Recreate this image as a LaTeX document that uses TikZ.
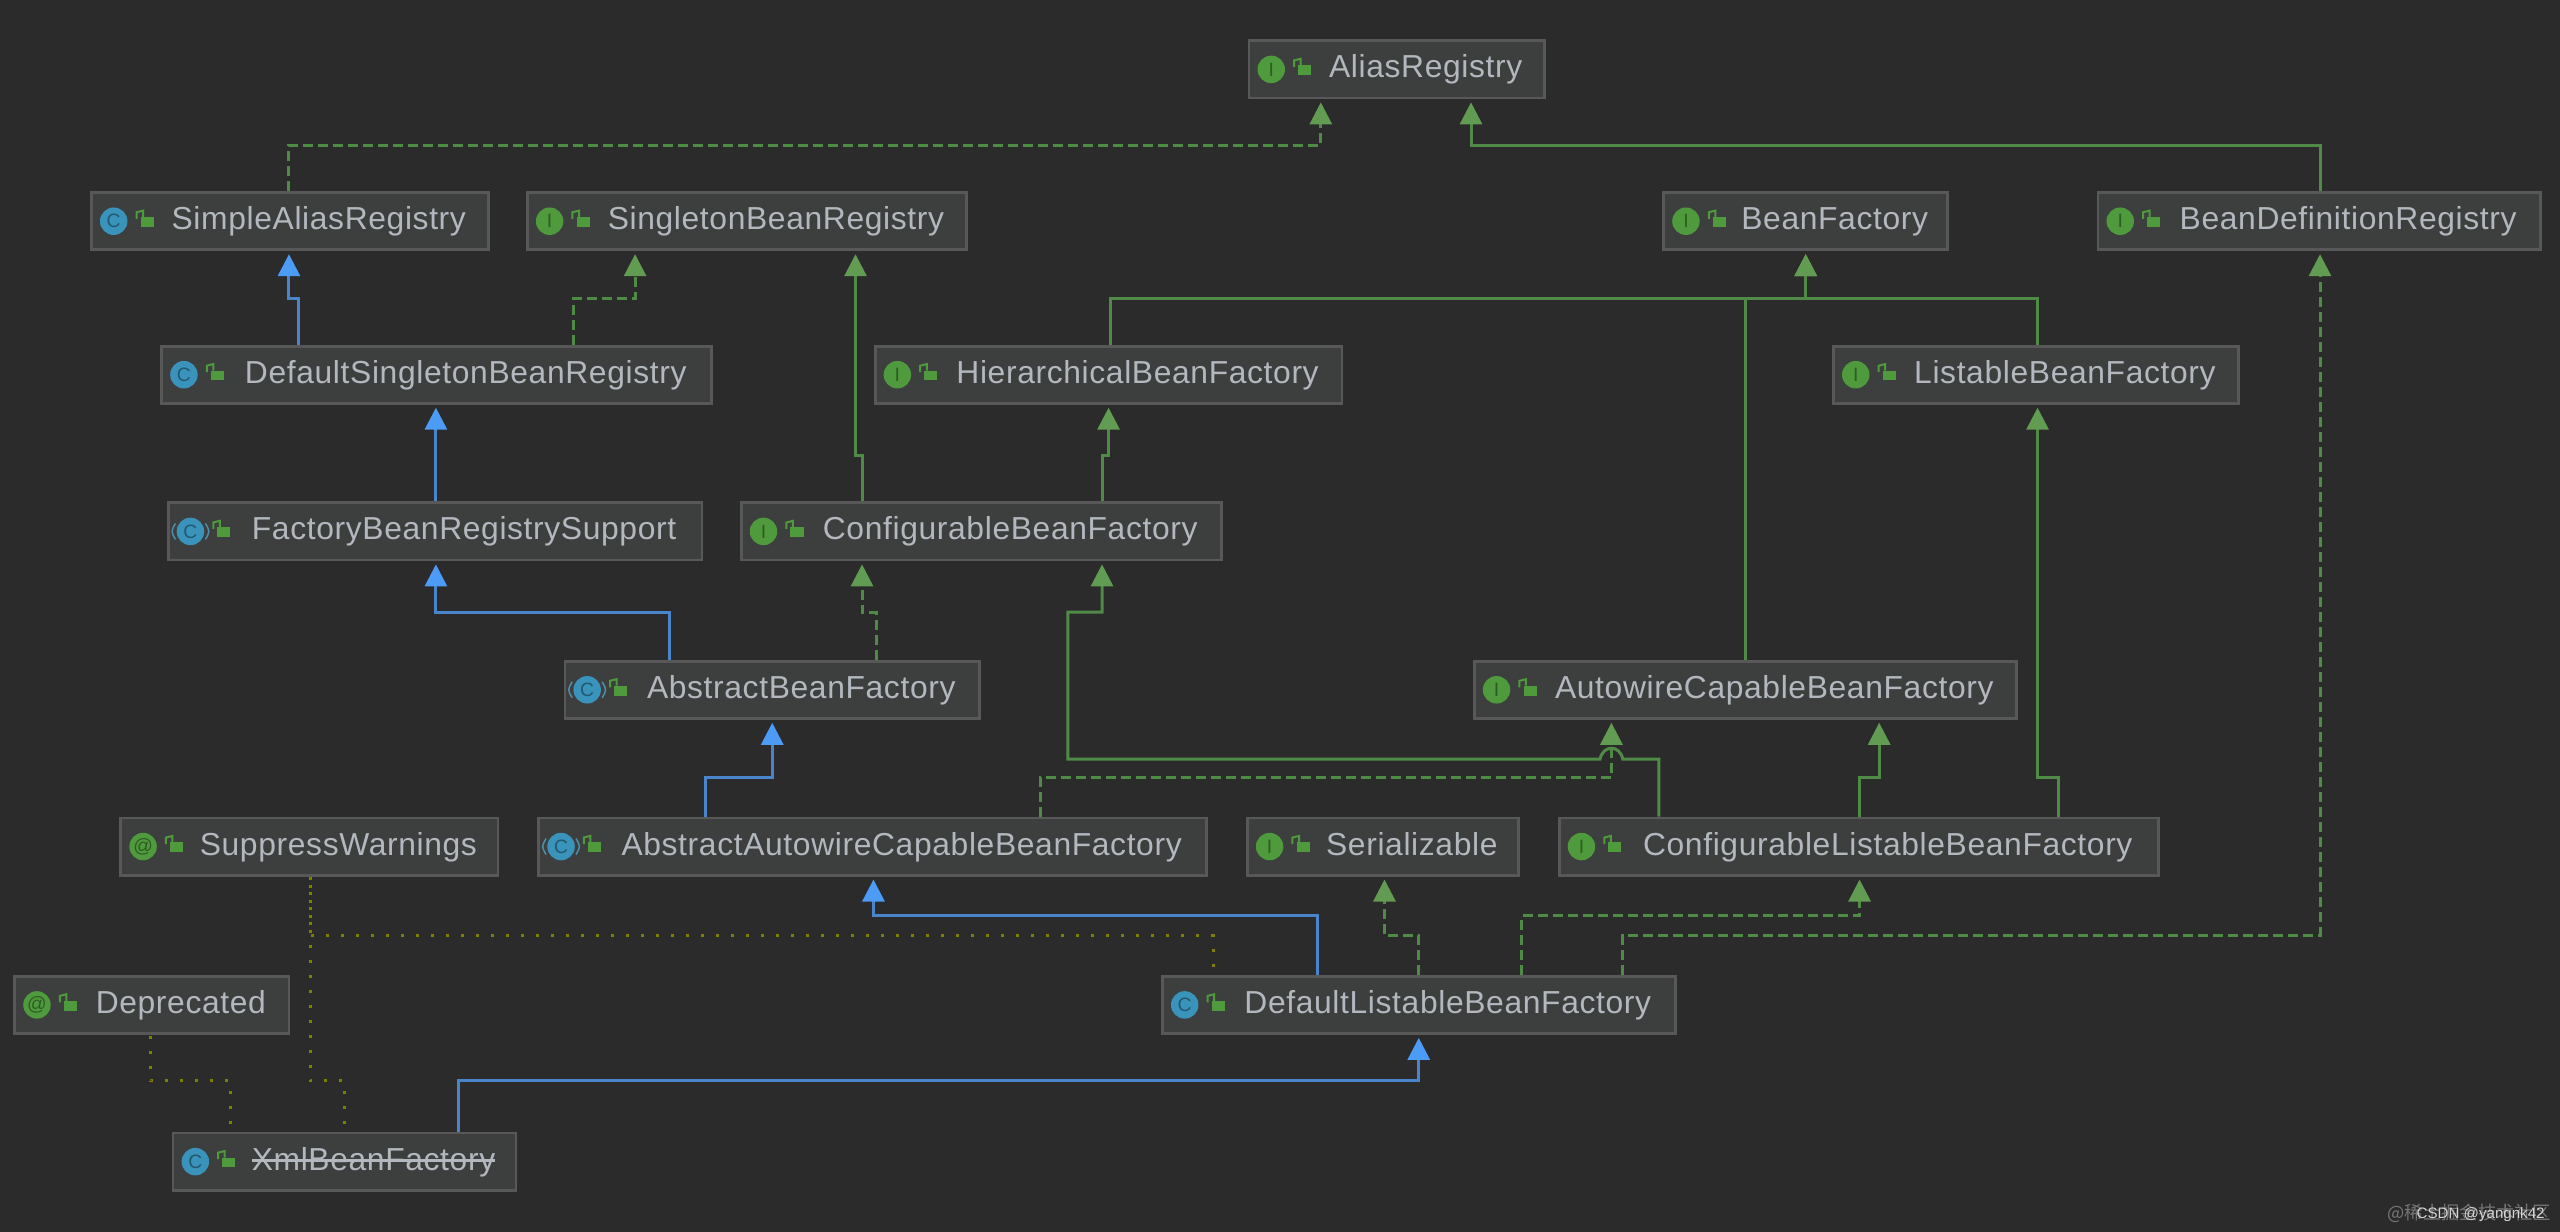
\documentclass[tikz,border=0pt]{standalone}
\usepackage{fontspec}
\setmainfont[LetterSpace=2]{Liberation Sans}
\newfontfamily\plainsans{Liberation Sans}
\newfontfamily\cjkmark{Noto Sans CJK SC}
\usepackage{xcolor}
\usetikzlibrary{arrows.meta}

\definecolor{canvas}{HTML}{2B2B2B}
\definecolor{boxfill}{HTML}{3D3E3E}
\definecolor{boxline}{HTML}{585858}
\definecolor{boxtext}{HTML}{B2B8BE}
\definecolor{implgreen}{HTML}{4F8A46}
\definecolor{tipgreen}{HTML}{629C52}
\definecolor{extblue}{HTML}{4A85CC}
\definecolor{tipblue}{HTML}{4C9BF5}
\definecolor{annolive}{HTML}{808000}
\definecolor{ifcgreen}{HTML}{4E9A3C}
\definecolor{clsblue}{HTML}{3A93BA}
\newcommand{\pw}{.16327mm}
\newcommand{\struck}[1]{\sbox0{#1}\rlap{\rule[.27em]{\wd0}{.22mm}}\box0}

\begin{document}
\begin{tikzpicture}[
    x=.16327mm, y=-.16327mm,
    box/.style={draw=boxline, fill=boxfill, line width=.28mm, text=boxtext, inner xsep=0pt, inner ysep=0pt,
                minimum width=#1*\pw, minimum height=35*\pw, font=\fontsize{9.05}{11}\selectfont,
                text height=2.45mm, text depth=.75mm,
                execute at begin node={\hspace*{5.8mm}}},
    badge/.style={circle, inner sep=0pt, minimum size=2.75mm, font=\fontsize{5.5}{6}\selectfont},
    inherit/.style={line width=.3mm, shorten >=.3mm},
    solidarr/.style={inherit, implgreen, -{Triangle[length=2.2mm,width=2.2mm,color=tipgreen]}},
    dasharr/.style={solidarr, dash pattern=on 1mm off .5mm},
    bluearr/.style={inherit, extblue, -{Triangle[length=2.2mm,width=2.2mm,color=tipblue]}},
    annot/.style={annolive, line width=.3mm, dash pattern=on .3mm off 1.2mm, shorten <=.8mm}
]
\fill[canvas] (0,0) rectangle (1568,754.6);

% first row
\node[box=181] (ar) at (855.5,42.5) {AliasRegistry};
\node[box=243] (sar) at (177.5,135.5) {SimpleAliasRegistry};
\node[box=269] (sbr) at (457.5,135.5) {SingletonBeanRegistry};
\node[box=174] (bf) at (1106,135.5) {BeanFactory};
\node[box=271] (bdr) at (1420.5,135.5) {BeanDefinitionRegistry};
\node[box=337] (dsbr) at (267.5,229.5) {DefaultSingletonBeanRegistry};
\node[box=286] (hbf) at (679,229.5) {HierarchicalBeanFactory};
\node[box=248] (lbf) at (1247,229.5) {ListableBeanFactory};
\node[box=327] (fbrs) at (266.5,325.5) {FactoryBeanRegistrySupport};
\node[box=294] (cbf) at (601,325.5) {ConfigurableBeanFactory};
\node[box=254] (abf) at (473,422.5) {AbstractBeanFactory};
\node[box=332] (acbf) at (1069,422.5) {AutowireCapableBeanFactory};
\node[box=231] (sw) at (189.5,518.5) {SuppressWarnings};
\node[box=409] (aacbf) at (534.5,518.5) {AbstractAutowireCapableBeanFactory};
\node[box=166] (ser) at (847,518.5) {Serializable};
\node[box=367] (clbf) at (1138.5,518.5) {ConfigurableListableBeanFactory};
\node[box=168] (dep) at (93,615.5) {Deprecated};
\node[box=314] (dlbf) at (869,615.5) {DefaultListableBeanFactory};
\node[box=210] (xbf) at (211,711.5) {\struck{XmlBeanFactory}};

% icons
\foreach \n/\c/\t in {ar/ifcgreen/I, sar/clsblue/C, sbr/ifcgreen/I, bf/ifcgreen/I, bdr/ifcgreen/I,
    dsbr/clsblue/C, hbf/ifcgreen/I, lbf/ifcgreen/I, fbrs/clsblue/C, cbf/ifcgreen/I, abf/clsblue/C,
    acbf/ifcgreen/I, sw/ifcgreen/@, aacbf/clsblue/C, ser/ifcgreen/I, clbf/ifcgreen/I, dep/ifcgreen/@,
    dlbf/clsblue/C, xbf/clsblue/C} {
    \node[badge, fill=\c, text=\c!60!black] (\n-badge) at ([xshift=14.5*\pw]\n.west) {\t};
    \begin{scope}[shift={(\n.west)}]
        \fill[ifcgreen] (31,-2.5) rectangle (39,3.5);
        \draw[ifcgreen, line width=.2mm] (28.5,-1.5) -- (28.5,-5.5) -- (32.5,-6.5) -- (32.5,-2.5);
    \end{scope}
}
\foreach \n in {fbrs,abf,aacbf} {
    \draw[clsblue!70!gray, line width=.15mm] ([xshift=-1.5mm,yshift=.8mm]\n-badge.center) .. controls ([xshift=-1.95mm]\n-badge.center) .. ([xshift=-1.5mm,yshift=-.8mm]\n-badge.center);
    \draw[clsblue!70!gray, line width=.15mm] ([xshift=1.5mm,yshift=.8mm]\n-badge.center) .. controls ([xshift=1.95mm]\n-badge.center) .. ([xshift=1.5mm,yshift=-.8mm]\n-badge.center);
}

% connectors
\draw[dasharr] (sar.north -| 177,0) |- (809,89) -- (ar.south -| 809,0);
\draw[solidarr] (bdr.north -| 1421,0) |- (901,89) -- (ar.south -| 901,0);
\draw[bluearr] (dsbr.north -| 183,0) |- (177,183) -- (sar.south -| 177,0);
\draw[dasharr] (dsbr.north -| 351,0) |- (389,183) -- (sbr.south -| 389,0);
\draw[solidarr] (cbf.north -| 528,0) |- (524,279) -- (sbr.south -| 524,0);
\draw[solidarr] (hbf.north -| 680,0) |- (1106,183) -- (bf.south -| 1106,0);
\draw[solidarr] (lbf.north -| 1248,0) |- (1106,183) -- (bf.south -| 1106,0);
\draw[solidarr] (acbf.north -| 1069,0) |- (1106,183) -- (bf.south -| 1106,0);
\draw[bluearr] (fbrs.north -| 267,0) -- (dsbr.south -| 267,0);
\draw[solidarr] (cbf.north -| 675,0) |- (679,279) -- (hbf.south -| 679,0);
\draw[bluearr] (abf.north -| 410,0) |- (267,375) -- (fbrs.south -| 267,0);
\draw[dasharr] (abf.north -| 537,0) |- (528,375) -- (cbf.south -| 528,0);
\draw[bluearr] (aacbf.north -| 432,0) |- (473,476) -- (abf.south -| 473,0);
\draw[dasharr] (aacbf.north -| 637,0) |- (987,476) -- (acbf.south -| 987,0);
\draw[solidarr] (clbf.north -| 1016,0) |- (994,465) .. controls (992,456) and (982,456) .. (980,465) -- (654,465) |- (675,375) -- (cbf.south -| 675,0);
\draw[solidarr] (clbf.north -| 1139,0) |- (1151,476) -- (acbf.south -| 1151,0);
\draw[solidarr] (clbf.north -| 1261,0) |- (1248,476) -- (lbf.south -| 1248,0);
\draw[bluearr] (dlbf.north -| 807,0) |- (535,561) -- (aacbf.south -| 535,0);
\draw[dasharr] (dlbf.north -| 869,0) |- (848,573) -- (ser.south -| 848,0);
\draw[dasharr] (dlbf.north -| 932,0) |- (1139,561) -- (clbf.south -| 1139,0);
\draw[dasharr] (dlbf.north -| 994,0) |- (1421,573) -- (bdr.south -| 1421,0);
\draw[bluearr] (xbf.north -| 281,0) |- (869,662) -- (dlbf.south -| 869,0);
\draw[annot] (dlbf.north -| 743,0) |- (190,573) -- (sw.south -| 190,0);
\draw[annot] (xbf.north -| 211,0) |- (190,662) -- (sw.south -| 190,0);
\draw[annot] (xbf.north -| 141,0) |- (92,662) -- (dep.south -| 92,0);

% watermarks
\node[text=white!35!canvas, font=\cjkmark\fontsize{5.2}{6}\selectfont, anchor=east, inner sep=0pt] (juejin) at (1563,743) {@稀土掘金技术社区};
\node[text=white!80!canvas, font=\plainsans\fontsize{4.3}{5}\selectfont, anchor=east, inner sep=0pt] (csdn) at (1559,744) {CSDN @yangnk42};
\end{tikzpicture}
\end{document}
